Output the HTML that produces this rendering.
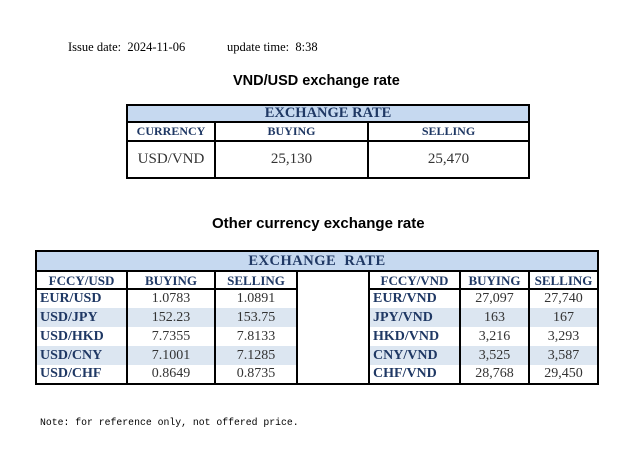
<!DOCTYPE html>
<html><head><meta charset="utf-8"><style>
*{margin:0;padding:0;box-sizing:border-box}
body{width:631px;height:451px;background:#fff;position:relative;overflow:hidden;font-family:"Liberation Serif",serif}
.a{position:absolute;white-space:nowrap}
.t{position:absolute;font-family:"Liberation Sans",sans-serif;font-weight:bold;font-size:14.5px;color:#000}
table{position:absolute;border-collapse:collapse;table-layout:fixed;font-size:14px}
td{border:2px solid #000;text-align:center;padding:0;line-height:1;overflow:hidden;white-space:nowrap;vertical-align:middle}
.h{background:#c6d9f0;color:#1f3864;font-weight:bold;font-size:14.5px}
.b{color:#1f3864;font-weight:bold;font-size:13px}
.d{color:#333}
.l{text-align:left;padding-left:3px;font-size:14px}
.s td.x{background:#dce6f1}
.w{background:#fff}
.n td{border-top:none;border-bottom:none}
tr.last td{border-bottom:2px solid #000}
</style></head><body>
<div class="a" style="left:68px;top:40px;font-size:12.5px">Issue date:&nbsp; 2024-11-06</div>
<div class="a" style="left:227px;top:40px;font-size:12.5px">update time:&nbsp; 8:38</div>
<div class="t" style="left:233px;top:73px">VND/USD exchange rate</div>
<table style="left:126px;top:104px;width:402px">
<col style="width:88px"><col style="width:153px"><col style="width:161px">
<tr style="height:16px"><td class="h" colspan="3">EXCHANGE RATE</td></tr>
<tr style="height:19px"><td class="b" style="font-size:12px">CURRENCY</td><td class="b" style="font-size:12px">BUYING</td><td class="b" style="font-size:12px">SELLING</td></tr>
<tr style="height:37px"><td class="d" style="font-size:15px">USD/VND</td><td class="d" style="font-size:15px">25,130</td><td class="d" style="font-size:15px">25,470</td></tr>
</table>
<div class="t" style="left:212px;top:215px;font-size:15px">Other currency exchange rate</div>
<table style="left:35px;top:250px;width:562px">
<col style="width:91px"><col style="width:88px"><col style="width:82px"><col style="width:72px"><col style="width:91px"><col style="width:69px"><col style="width:69px">
<tr style="height:20px"><td class="h" colspan="7" style="letter-spacing:0.5px">EXCHANGE&nbsp; RATE</td></tr>
<tr style="height:18px"><td class="b">FCCY/USD</td><td class="b">BUYING</td><td class="b">SELLING</td><td class="w" rowspan="6" style="border-bottom:2px solid #000"></td><td class="b">FCCY/VND</td><td class="b">BUYING</td><td class="b">SELLING</td></tr>
<tr class="n" style="height:19px"><td class="b l">EUR/USD</td><td class="d">1.0783</td><td class="d">1.0891</td><td class="b l">EUR/VND</td><td class="d">27,097</td><td class="d">27,740</td></tr>
<tr class="n s" style="height:19px"><td class="b l x">USD/JPY</td><td class="d x">152.23</td><td class="d x">153.75</td><td class="b l x">JPY/VND</td><td class="d x">163</td><td class="d x">167</td></tr>
<tr class="n" style="height:19px"><td class="b l">USD/HKD</td><td class="d">7.7355</td><td class="d">7.8133</td><td class="b l">HKD/VND</td><td class="d">3,216</td><td class="d">3,293</td></tr>
<tr class="n s" style="height:19px"><td class="b l x">USD/CNY</td><td class="d x">7.1001</td><td class="d x">7.1285</td><td class="b l x">CNY/VND</td><td class="d x">3,525</td><td class="d x">3,587</td></tr>
<tr class="n last" style="height:19px"><td class="b l">USD/CHF</td><td class="d">0.8649</td><td class="d">0.8735</td><td class="b l">CHF/VND</td><td class="d">28,768</td><td class="d">29,450</td></tr>
</table>
<div class="a" style="left:40px;top:417px;font-family:'Liberation Mono',monospace;font-size:9.8px">Note: for reference only, not offered price.</div>
</body></html>
